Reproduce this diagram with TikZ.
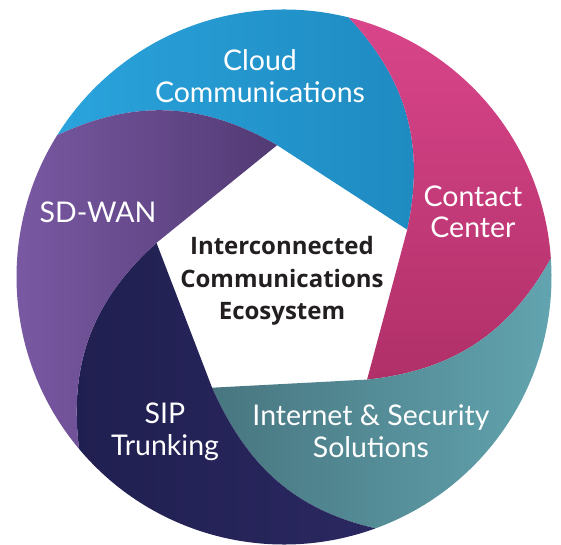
\documentclass[tikz,border=0pt]{standalone}
\usepackage{fontspec}
\newfontfamily\labelfont{Lato}
\newfontfamily\hubfont{Open Sans}

\definecolor{cloudL}{RGB}{42,163,220}
\definecolor{cloudR}{RGB}{30,138,192}
\definecolor{contactT}{RGB}{217,69,138}
\definecolor{contactB}{RGB}{176,48,104}
\definecolor{netL}{RGB}{72,118,128}
\definecolor{netR}{RGB}{98,165,176}
\definecolor{sipL}{RGB}{32,31,80}
\definecolor{sipR}{RGB}{42,40,96}
\definecolor{wanL}{RGB}{124,91,166}
\definecolor{wanR}{RGB}{82,58,116}
\definecolor{hubtext}{RGB}{35,31,32}

\tikzset{
  lbl/.style={text=white,align=center,font=\labelfont\fontsize{28.5}{31.5}\selectfont},
  hub/.style={text=hubtext,align=center,font=\hubfont\bfseries\fontsize{24}{32.5}\selectfont}
}

\begin{document}
\begin{tikzpicture}[x=1pt,y=1pt]
  \useasboundingbox (-284,-267) rectangle (277,277);
  % blades: pentagon edge, spiral out, rim, spiral back
  \draw[draw=none,left color=cloudL,right color=cloudR] (93:132) -- (21:132) to[out=78,in=-47] (76:267.5) arc[start angle=76,end angle=148,radius=267.5] to[out=25,in=150] (93:132) -- cycle;
  \draw[draw=none,top color=contactT,bottom color=contactB] (21:132) -- (-51:132) to[out=6,in=-119] (4:267.5) arc[start angle=4,end angle=76,radius=267.5] to[out=-47,in=78] (21:132) -- cycle;
  \draw[draw=none,left color=netL,right color=netR] (-51:132) -- (-123:132) to[out=-66,in=167] (-70:267.5) arc[start angle=-70,end angle=4,radius=267.5] to[out=-119,in=6] (-51:132) -- cycle;
  \draw[draw=none,left color=sipL,right color=sipR] (-123:132) -- (165:132) to[out=222,in=97] (220:267.5) arc[start angle=220,end angle=290,radius=267.5] to[out=167,in=-66] (-123:132) -- cycle;
  \draw[draw=none,left color=wanL,right color=wanR] (165:132) -- (93:132) to[out=150,in=25] (148:267.5) arc[start angle=148,end angle=220,radius=267.5] to[out=97,in=222] (165:132) -- cycle;
  % labels
  \node[lbl] (cloud) at (-24,201) {Cloud\\Communications};
  \node[lbl] (contact) at (189,65) {Contact\\Center};
  \node[lbl] (sdwan) at (-186,65) {SD-WAN};
  \node[lbl] (sip) at (-119,-155) {SIP\\Trunking};
  \node[lbl] (internet) at (87,-154) {Internet \& Security\\Solutions};
  \node[hub] (ecosystem) at (-2,-4) {Interconnected\\Communications\\Ecosystem};
\end{tikzpicture}
\end{document}
